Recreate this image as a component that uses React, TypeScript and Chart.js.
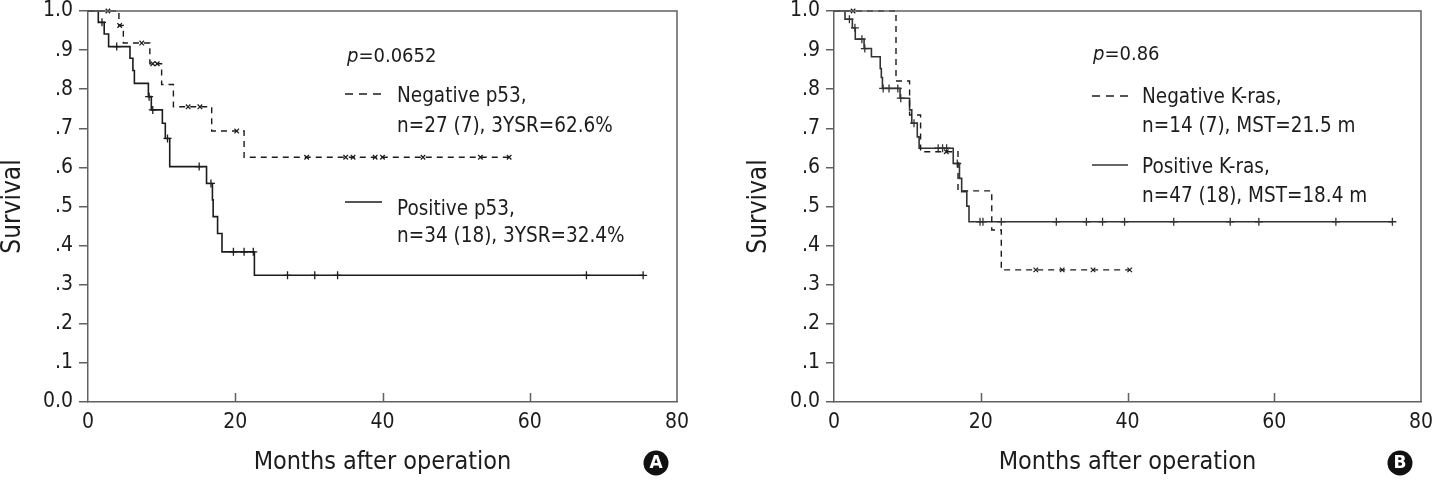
import { useEffect, useRef } from "react";
import { Chart, registerables } from "chart.js";

Chart.register(...registerables);

const FONT = '"DejaVu Sans Condensed", "DejaVu Sans", sans-serif';
const INK = "#1c1c1c";
const AXIS = "#606060";

// Shared x-axis ticks (months)
const monthTickStep = 20;
const monthMax = 80;
const innerMonthTicks = [20, 40, 60];

// ---------- Panel A: p53 ----------
const negP53Months = [0, 4.2, 4.8, 8.4, 10.0, 11.6, 16.8, 21.2, 57.2];
const negP53Surv = [1.0, 0.963, 0.918, 0.865, 0.812, 0.755, 0.693, 0.626, 0.626];
const negP53CensorMonths = [2.7, 4.3, 7.3, 8.8, 9.4, 13.6, 15.2, 20.2, 29.7, 35.0, 36.0, 39.0, 40.0, 45.5, 53.3, 57.2];
const negP53CensorSurv = [1.0, 0.963, 0.918, 0.865, 0.865, 0.755, 0.755, 0.693, 0.626, 0.626, 0.626, 0.626, 0.626, 0.626, 0.626, 0.626];

const posP53Months = [0, 1.4, 2.2, 2.8, 5.7, 6.1, 6.3, 8.2, 8.6, 10.1, 10.5, 11.1, 16.1, 16.9, 17.0, 17.6, 18.2, 22.6, 75.4];
const posP53Surv = [1.0, 0.971, 0.941, 0.909, 0.879, 0.848, 0.815, 0.781, 0.747, 0.713, 0.674, 0.602, 0.559, 0.517, 0.474, 0.431, 0.384, 0.324, 0.324];
const posP53CensorMonths = [1.9, 3.9, 8.3, 8.8, 10.8, 15.1, 16.7, 19.75, 21.2, 22.45, 27.1, 30.8, 33.9, 67.7, 75.4];
const posP53CensorSurv = [0.971, 0.909, 0.781, 0.747, 0.674, 0.602, 0.559, 0.384, 0.384, 0.384, 0.324, 0.324, 0.324, 0.324, 0.324];

const p53PValue = "0.0652";
const p53Legend = [
  ["Negative p53,", "n=27 (7), 3YSR=62.6%"],
  ["Positive p53,", "n=34 (18), 3YSR=32.4%"],
];

// ---------- Panel B: K-ras ----------
const negKrasMonths = [0, 8.45, 10.3, 11.8, 16.9, 21.5, 22.8, 40.3];
const negKrasSurv = [1.0, 0.821, 0.734, 0.64, 0.54, 0.44, 0.338, 0.338];
const negKrasCensorMonths = [2.6, 15.3, 27.5, 31.1, 35.3, 40.3];
const negKrasCensorSurv = [1.0, 0.64, 0.338, 0.338, 0.338, 0.338];

const posKrasMonths = [0, 1.5, 2.5, 2.9, 4.1, 5.1, 6.3, 6.45, 6.6, 9.0, 10.3, 10.6, 11.35, 11.6, 16.25, 17.1, 17.4, 18.1, 18.4, 76.1];
const posKrasSurv = [1.0, 0.979, 0.957, 0.928, 0.904, 0.883, 0.853, 0.83, 0.802, 0.777, 0.747, 0.713, 0.678, 0.649, 0.61, 0.572, 0.538, 0.501, 0.461, 0.461];
const posKrasCensorMonths = [2.1, 2.85, 3.8, 4.2, 6.7, 7.5, 8.7, 9.1, 10.9, 14.2, 14.8, 15.35, 16.8, 19.9, 20.3, 22.8, 30.3, 34.4, 36.6, 39.6, 46.3, 54.0, 57.9, 68.4, 76.1];
const posKrasCensorSurv = [0.979, 0.957, 0.928, 0.904, 0.802, 0.802, 0.802, 0.777, 0.713, 0.649, 0.649, 0.649, 0.61, 0.461, 0.461, 0.461, 0.461, 0.461, 0.461, 0.461, 0.461, 0.461, 0.461, 0.461, 0.461];

const krasPValue = "0.86";
const krasLegend = [
  ["Negative K-ras,", "n=14 (7), MST=21.5 m"],
  ["Positive K-ras,", "n=47 (18), MST=18.4 m"],
];

const toPoints = (xs: number[], ys: number[]) => xs.map((x, i) => ({ x, y: ys[i] }));

type PanelSpec = {
  badge: string;
  neg: [number[], number[], number[], number[]];
  pos: [number[], number[], number[], number[]];
  pValue: string;
  legend: string[][];
  posColor: string;
  layoutPad: { left: number; right: number; top: number; bottom: number };
  yAxisWidth: number;
  yTickLen: number;
  legendPos: { px: number; py: number; lineX0: number; lineX1: number; textX: number; rows: number[][] };
  badgePos: [number, number];
};

const panels: PanelSpec[] = [
  {
    badge: "A",
    neg: [negP53Months, negP53Surv, negP53CensorMonths, negP53CensorSurv],
    pos: [posP53Months, posP53Surv, posP53CensorMonths, posP53CensorSurv],
    pValue: p53PValue,
    legend: p53Legend,
    posColor: INK,
    layoutPad: { left: 0, right: 41, top: 11, bottom: 0 },
    yAxisWidth: 88,
    yTickLen: 9,
    legendPos: { px: 347, py: 62, lineX0: 345, lineX1: 382, textX: 397, rows: [[94, 102, 132], [202, 215, 242]] },
    badgePos: [656, 463],
  },
  {
    badge: "B",
    neg: [negKrasMonths, negKrasSurv, negKrasCensorMonths, negKrasCensorSurv],
    pos: [posKrasMonths, posKrasSurv, posKrasCensorMonths, posKrasCensorSurv],
    pValue: krasPValue,
    legend: krasLegend,
    posColor: "#333333",
    layoutPad: { left: 28, right: 15, top: 11, bottom: 0 },
    yAxisWidth: 88,
    yTickLen: 8,
    legendPos: { px: 375, py: 60, lineX0: 374, lineX1: 410, textX: 424, rows: [[96, 103, 132], [165, 173, 202]] },
    badgePos: [682, 463],
  },
];

function makeDecor(spec: PanelSpec) {
  return {
    id: "kmDecor" + spec.badge,
    afterDraw(chart: any) {
      const { ctx, chartArea, scales } = chart;
      const { left, right, top, bottom } = chartArea;
      ctx.save();
      // frame (top + right) and inward month ticks
      ctx.strokeStyle = AXIS;
      ctx.lineWidth = 1.5;
      ctx.beginPath();
      ctx.moveTo(left, top);
      ctx.lineTo(right, top);
      ctx.lineTo(right, bottom);
      for (const m of innerMonthTicks) {
        const px = Math.round(scales.x.getPixelForValue(m)) + 0.5;
        ctx.moveTo(px, bottom);
        ctx.lineTo(px, bottom - 9);
      }
      ctx.stroke();

      // p value
      const lp = spec.legendPos;
      ctx.fillStyle = INK;
      ctx.textBaseline = "alphabetic";
      ctx.textAlign = "left";
      ctx.font = `italic 20px ${FONT}`;
      ctx.fillText("p", lp.px, lp.py);
      const pw = ctx.measureText("p").width;
      ctx.font = `20px ${FONT}`;
      ctx.fillText("=" + spec.pValue, lp.px + pw, lp.py);

      // legend rows
      spec.legend.forEach((lines, i) => {
        const [ly, b1, b2] = lp.rows[i];
        ctx.beginPath();
        ctx.strokeStyle = i === 0 ? INK : spec.posColor;
        ctx.lineWidth = 1.3;
        ctx.setLineDash(i === 0 ? [8, 6] : []);
        ctx.moveTo(lp.lineX0, ly);
        ctx.lineTo(lp.lineX1, ly);
        ctx.stroke();
        ctx.setLineDash([]);
        ctx.font = `20.5px ${FONT}`;
        ctx.fillStyle = INK;
        ctx.fillText(lines[0], lp.textX, b1);
        ctx.fillText(lines[1], lp.textX, b2);
      });

      // panel badge
      const [bx, by] = spec.badgePos;
      ctx.beginPath();
      ctx.fillStyle = "#111";
      ctx.arc(bx, by, 12.5, 0, Math.PI * 2);
      ctx.fill();
      ctx.fillStyle = "#fff";
      ctx.font = `bold 17px "DejaVu Sans", sans-serif`;
      ctx.textAlign = "center";
      ctx.textBaseline = "middle";
      ctx.fillText(spec.badge, bx, by + 1);
      ctx.restore();
    },
  };
}

function KMPanel({ spec }: { spec: PanelSpec }) {
  const ref = useRef<HTMLCanvasElement | null>(null);

  useEffect(() => {
    if (!ref.current) return;
    const [nT, nS, nCT, nCS] = spec.neg;
    const [pT, pS, pCT, pCS] = spec.pos;
    const chart = new Chart(ref.current, {
      type: "line",
      data: {
        datasets: [
          {
            data: toPoints(nT, nS),
            stepped: true,
            borderColor: INK,
            borderWidth: 1.4,
            borderDash: [6, 5],
            pointRadius: 0,
            fill: false,
            clip: false as any,
          },
          {
            data: toPoints(pT, pS),
            stepped: true,
            borderColor: spec.posColor,
            borderWidth: 1.6,
            pointRadius: 0,
            fill: false,
            clip: false as any,
          },
          {
            data: toPoints(nCT, nCS),
            showLine: false,
            pointStyle: "crossRot",
            pointRadius: 3.2,
            pointBorderWidth: 1.2,
            pointBorderColor: INK,
            borderColor: INK,
            clip: false as any,
          },
          {
            data: toPoints(pCT, pCS),
            showLine: false,
            pointStyle: "cross",
            pointRadius: 4,
            pointBorderWidth: 1.3,
            pointBorderColor: spec.posColor,
            borderColor: spec.posColor,
            clip: false as any,
          },
        ],
      },
      options: {
        animation: false,
        responsive: false,
        events: [],
        layout: { padding: spec.layoutPad },
        plugins: { legend: { display: false }, tooltip: { enabled: false } },
        scales: {
          x: {
            type: "linear",
            min: 0,
            max: monthMax,
            afterFit: (s: any) => {
              s.height = 84;
              s.paddingLeft = 0;
              s.paddingRight = 0;
            },
            ticks: {
              stepSize: monthTickStep,
              font: { family: FONT, size: 21 },
              color: INK,
              padding: 0,
              maxRotation: 0,
            },
            grid: { display: false },
            border: { display: true, color: AXIS, width: 1.5 },
            title: {
              display: true,
              text: "Months after operation",
              font: { family: FONT, size: 25, lineHeight: 1 },
              color: INK,
              padding: { top: 0, bottom: 11 },
            },
          },
          y: {
            type: "linear",
            min: 0,
            max: 1,
            afterFit: (s: any) => {
              s.width = spec.yAxisWidth;
              s.paddingTop = 0;
              s.paddingBottom = 0;
            },
            ticks: {
              stepSize: 0.1,
              font: { family: FONT, size: 21 },
              color: INK,
              padding: 6,
              callback: (v: any) => {
                const n = Math.round(Number(v) * 10);
                if (n === 0) return "0.0";
                if (n === 10) return "1.0";
                return "." + n;
              },
            },
            grid: {
              display: true,
              drawOnChartArea: false,
              drawTicks: true,
              tickLength: spec.yTickLen,
              color: AXIS,
              lineWidth: 1.5,
            },
            border: { display: true, color: AXIS, width: 1.5 },
            title: {
              display: true,
              text: "Survival",
              font: { family: FONT, size: 26, lineHeight: 1 },
              color: INK,
              padding: { top: 0, bottom: 0 },
            },
          },
        },
      },
      plugins: [makeDecor(spec)],
    } as any);
    return () => chart.destroy();
  }, [spec]);

  return <canvas ref={ref} width={718} height={486} style={{ display: "block", width: 718, height: 486 }} />;
}

export default function App() {
  return (
    <div
      style={{
        position: "absolute",
        left: 0,
        top: 0,
        width: 1436,
        height: 486,
        display: "flex",
        background: "#fff",
      }}
    >
      {panels.map((p) => (
        <KMPanel key={p.badge} spec={p} />
      ))}
    </div>
  );
}
